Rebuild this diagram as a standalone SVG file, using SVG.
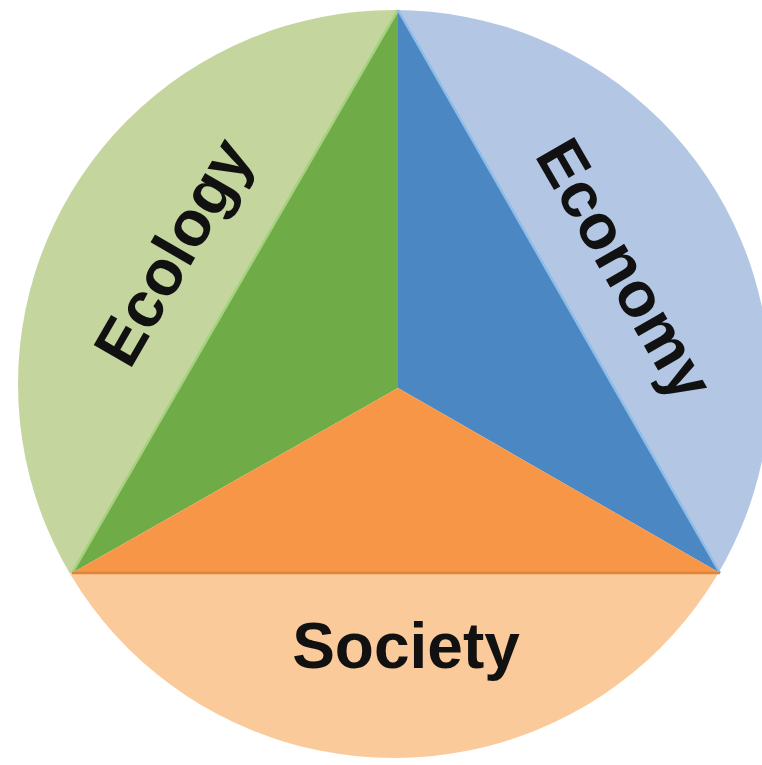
<svg xmlns="http://www.w3.org/2000/svg" width="762" height="765" viewBox="0 0 762 765">
  <style>
    .lbl { font-family: "Liberation Sans", Arial, sans-serif; font-weight: bold; font-size: 64px; fill: #111111; }
  </style>
  <defs>
    <clipPath id="disc">
      <ellipse cx="394" cy="384" rx="376" ry="374"/>
    </clipPath>
  </defs>
  <rect width="762" height="765" fill="#ffffff"/>
  <g id="ring" clip-path="url(#disc)">
    <g id="ecology-outer"><polygon points="398,10 398,-200 -580,-200 -580,943 72,573" fill="#c4d69e"/></g>
    <g id="society-outer"><polygon points="72,573 -580,943 1370,943 720,573" fill="#fbca9b"/></g>
    <g id="economy-outer"><polygon points="398,10 398,-200 1370,-200 1370,943 720,573" fill="#b3c7e4"/></g>
  </g>
  <g id="core">
    <g id="ecology-core"><polygon points="398,10 72,573 398,388" fill="#6fab46"/>
      <line x1="398" y1="10" x2="72" y2="573" stroke="#a6d27f" stroke-width="2.5"/></g>
    <g id="economy-core"><polygon points="398,10 398,388 720,573" fill="#4a87c3"/>
      <line x1="398" y1="10" x2="720" y2="573" stroke="#8fbde8" stroke-width="2.5"/></g>
    <g id="society-core"><polygon points="72,573 398,388 720,573" fill="#f79646"/>
      <line x1="72" y1="573" x2="720" y2="573" stroke="#e0843a" stroke-width="2.5"/></g>
  </g>
  <g id="connectors"/>
  <g id="labels">
    <text class="lbl" text-anchor="middle" transform="translate(192,263) rotate(-60)">Ecology</text>
    <text class="lbl" text-anchor="middle" transform="translate(606,280) rotate(60)">Economy</text>
    <text class="lbl" x="406" y="668" text-anchor="middle">Society</text>
  </g>
</svg>
